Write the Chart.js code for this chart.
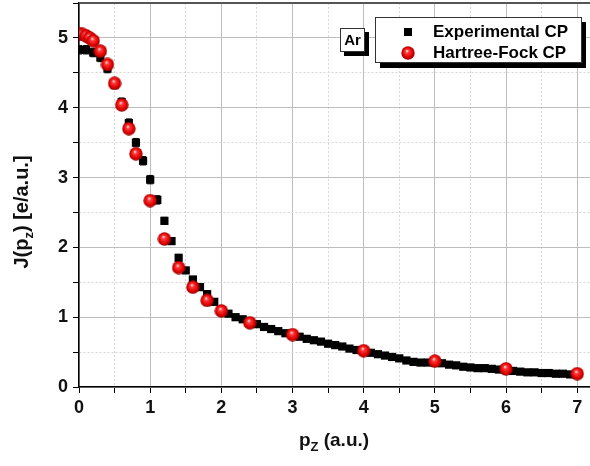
<!DOCTYPE html>
<html>
<head>
<meta charset="utf-8">
<script src="https://cdn.jsdelivr.net/npm/chart.js@4.4.0/dist/chart.umd.min.js"></script>
<style>
  html, body { margin: 0; padding: 0; background: #fff; }
  #wrap { width: 590px; height: 466px; position: relative; }
</style>
</head>
<body>
<div id="wrap"><canvas id="cp" width="590" height="466"></canvas></div>
<script>
// Compton profile of argon: measured vs. Hartree-Fock
const expPz = [0.0,0.1,0.2,0.3,0.4,0.5,0.6,0.7,0.8,0.9,
  1.0,1.1,1.2,1.3,1.4,1.5,1.6,1.7,1.8,1.9,
  2.0,2.1,2.2,2.3,2.4,2.5,2.6,2.7,2.8,2.9,
  3.0,3.1,3.2,3.3,3.4,3.5,3.6,3.7,3.8,3.9,
  4.0,4.1,4.2,4.3,4.4,4.5,4.6,4.7,4.8,4.9,
  5.0,5.1,5.2,5.3,5.4,5.5,5.6,5.7,5.8,5.9,
  6.0,6.1,6.2,6.3,6.4,6.5,6.6,6.7,6.8,6.9,7.0];
const expJ = [4.83,4.83,4.79,4.72,4.56,4.33,4.08,3.78,3.50,3.24,
  2.97,2.68,2.38,2.09,1.85,1.67,1.54,1.43,1.33,1.22,
  1.10,1.05,1.00,0.97,0.93,0.90,0.86,0.83,0.80,0.77,
  0.74,0.72,0.69,0.67,0.65,0.62,0.60,0.58,0.55,0.53,
  0.51,0.49,0.47,0.45,0.43,0.41,0.38,0.36,0.35,0.35,
  0.35,0.34,0.32,0.31,0.29,0.28,0.27,0.27,0.26,0.25,
  0.24,0.23,0.22,0.21,0.21,0.20,0.20,0.19,0.19,0.18,0.18];
const expErr = [0.06,0.06,0.06,0.06,0.06,0.06,0.06,0.06,0.06,0.06,
  0.06,0.06,0.05,0.05,0.05,0.04,0.04,0.04,0.03,0.03,
  0.03,0.02,0.02,0.02,0.02,0.02,0.02,0.02,0.02,0.02,
  0.02,0.02,0.02,0.02,0.02,0.02,0.02,0.02,0.02,0.02,
  0.02,0.02,0.02,0.02,0.02,0.02,0.02,0.02,0.02,0.02,
  0.02,0.02,0.02,0.02,0.02,0.02,0.02,0.02,0.02,0.02,
  0.02,0.02,0.02,0.02,0.02,0.02,0.02,0.02,0.02,0.02,0.02];

const hfPz = [0.0,0.05,0.1,0.15,0.2,0.3,0.4,0.5,0.6,0.7,0.8,
  1.0,1.2,1.4,1.6,1.8,2.0,2.4,3.0,4.0,5.0,6.0,7.0];
const hfJ = [5.06,5.05,5.03,5.00,4.96,4.81,4.62,4.35,4.04,3.70,3.34,
  2.67,2.12,1.71,1.43,1.24,1.09,0.92,0.75,0.52,0.37,0.26,0.19];

const xTicks = [0,1,2,3,4,5,6,7];
const yTicks = [0,1,2,3,4,5];

const seriesNames = ['Experimental CP', 'Hartree-Fock CP'];
const elementLabel = 'Ar';

const FONT = '"Liberation Sans", Arial, sans-serif';

// shaded red ball used as the Hartree-Fock marker
function makeBall(d) {
  const c = document.createElement('canvas');
  c.width = d; c.height = d;
  const g = c.getContext('2d');
  const r = d / 2;
  const grad = g.createRadialGradient(r * 0.85, r * 0.7, r * 0.05, r, r, r);
  grad.addColorStop(0, '#ffe2e2');
  grad.addColorStop(0.22, '#ff3a3a');
  grad.addColorStop(0.7, '#e00000');
  grad.addColorStop(1, '#8c0000');
  g.fillStyle = grad;
  g.beginPath();
  g.arc(r, r, r - 0.3, 0, Math.PI * 2);
  g.fill();
  return c;
}
const ball = makeBall(14);

const toPts = (xs, ys) => xs.map((x, i) => ({ x: x, y: ys[i] }));

// vertical error bars behind the measured points
const errorBars = {
  id: 'errorBars',
  beforeDatasetsDraw(chart) {
    const { ctx, chartArea: a, scales: { x, y } } = chart;
    ctx.save();
    ctx.beginPath();
    ctx.rect(a.left, a.top, a.right - a.left, a.bottom - a.top);
    ctx.clip();
    ctx.strokeStyle = '#000';
    ctx.lineWidth = 1;
    expPz.forEach((p, i) => {
      const px = x.getPixelForValue(p);
      const top = y.getPixelForValue(expJ[i] + expErr[i]);
      const bot = y.getPixelForValue(expJ[i] - expErr[i]);
      ctx.beginPath();
      ctx.moveTo(px, top); ctx.lineTo(px, bot);
      ctx.moveTo(px - 3, top); ctx.lineTo(px + 3, top);
      ctx.moveTo(px - 3, bot); ctx.lineTo(px + 3, bot);
      ctx.stroke();
    });
    ctx.restore();
  }
};

// top frame, axis titles with subscripts, label box and legend
const decorations = {
  id: 'decorations',
  afterDraw(chart) {
    const { ctx, chartArea: a } = chart;
    ctx.save();

    ctx.strokeStyle = '#555';
    ctx.lineWidth = 2;
    ctx.beginPath();
    ctx.moveTo(a.left, a.top); ctx.lineTo(a.right, a.top);
    ctx.stroke();

    ctx.fillStyle = '#111';
    ctx.textBaseline = 'alphabetic';

    // y-axis title: J(p_z) [e/a.u.]
    ctx.save();
    ctx.translate(28, 212);
    ctx.rotate(-Math.PI / 2);
    const big = 'bold 20px ' + FONT, small = 'bold 13px ' + FONT;
    const p1 = 'J(p', p2 = ') [e/a.u.]';
    ctx.font = small; const wz = ctx.measureText('z').width;
    ctx.font = big;
    const w1 = ctx.measureText(p1).width, w2 = ctx.measureText(p2).width;
    let sx = -(w1 + wz + w2) / 2;
    ctx.fillText(p1, sx, 0); sx += w1;
    ctx.font = small; ctx.fillText('z', sx, 5); sx += wz;
    ctx.font = big; ctx.fillText(p2, sx, 0);
    ctx.restore();

    // x-axis title: p_Z (a.u.)
    ctx.save();
    const xb = 'bold 19px ' + FONT, xs = 'bold 13px ' + FONT;
    const q1 = 'p', q2 = ' (a.u.)';
    ctx.font = xb; const v1 = ctx.measureText(q1).width, v2 = ctx.measureText(q2).width;
    ctx.font = xs; const vz = ctx.measureText('Z').width;
    let tx = 334 - (v1 + vz + v2) / 2;
    const ty = 446;
    ctx.font = xb; ctx.fillText(q1, tx, ty); tx += v1;
    ctx.font = xs; ctx.fillText('Z', tx, ty + 5); tx += vz;
    ctx.font = xb; ctx.fillText(q2, tx, ty);
    ctx.restore();

    // element tag
    ctx.fillStyle = '#000';
    ctx.fillRect(344, 32, 25, 24);
    ctx.fillStyle = '#fff';
    ctx.fillRect(340, 28, 25, 24);
    ctx.strokeStyle = '#333'; ctx.lineWidth = 1;
    ctx.strokeRect(340.5, 28.5, 24, 23);
    ctx.fillStyle = '#000';
    ctx.font = 'bold 15px ' + FONT;
    ctx.textAlign = 'center';
    ctx.textBaseline = 'middle';
    ctx.fillText(elementLabel, 352.5, 41);

    // legend box
    ctx.fillStyle = '#000';
    ctx.fillRect(380, 22, 206, 46);
    ctx.fillStyle = '#fff';
    ctx.fillRect(375, 17, 207, 46);
    ctx.strokeStyle = '#333';
    ctx.strokeRect(375.5, 17.5, 206, 45);

    ctx.fillStyle = '#000';
    ctx.fillRect(404, 28, 8, 8);
    ctx.drawImage(ball, 401, 46, 14, 14);

    ctx.textAlign = 'left';
    ctx.font = 'bold 17px ' + FONT;
    ctx.fillText(seriesNames[0], 433, 32);
    ctx.fillText(seriesNames[1], 433, 53);

    ctx.restore();
  }
};

const isMinor = v => Math.abs(v - Math.round(v)) > 1e-6;

const gridOpts = {
  color: c => (c.tick && isMinor(c.tick.value)) ? '#d6d6d6' : '#bdbdbd',
  lineWidth: 1,
  tickColor: '#000',
  tickLength: 6,
  tickWidth: 1
};
const borderOpts = {
  color: '#000',
  width: 1.5,
  dash: c => (c.tick && isMinor(c.tick.value)) ? [2, 2] : []
};

new Chart(document.getElementById('cp'), {
  type: 'scatter',
  data: {
    datasets: [
      {
        label: seriesNames[1],
        data: toPts(hfPz, hfJ),
        pointStyle: ball,
        pointRadius: 7,
        order: 0,
        clip: 0
      },
      {
        label: seriesNames[0],
        data: toPts(expPz, expJ),
        pointStyle: 'rect',
        pointRadius: 5.8,
        backgroundColor: '#000',
        borderColor: '#000',
        borderWidth: 0,
        order: 1,
        clip: 0
      }
    ]
  },
  options: {
    responsive: false,
    animation: false,
    events: [],
    layout: { autoPadding: false, padding: { left: 0, right: 0, top: 3, bottom: 0 } },
    plugins: {
      legend: { display: false },
      tooltip: { enabled: false }
    },
    scales: {
      x: {
        type: 'linear',
        min: 0,
        max: 7.18,
        afterFit: s => { s.height = 79; s.paddingLeft = 0; s.paddingRight = 0; },
        grid: gridOpts,
        border: borderOpts,
        ticks: {
          stepSize: 0.5,
          includeBounds: false,
          autoSkip: false,
          maxRotation: 0,
          padding: 4,
          color: '#111',
          font: { family: FONT, size: 18, weight: 'bold' },
          callback: v => xTicks.includes(v) ? String(v) : ''
        }
      },
      y: {
        type: 'linear',
        min: 0,
        max: 5.5,
        afterFit: s => { s.width = 79; s.paddingTop = 0; s.paddingBottom = 0; },
        grid: gridOpts,
        border: borderOpts,
        ticks: {
          stepSize: 0.5,
          includeBounds: false,
          autoSkip: false,
          padding: 5,
          color: '#111',
          font: { family: FONT, size: 18, weight: 'bold' },
          callback: v => yTicks.includes(v) ? String(v) : ''
        }
      }
    }
  },
  plugins: [errorBars, decorations]
});
</script>
</body>
</html>
